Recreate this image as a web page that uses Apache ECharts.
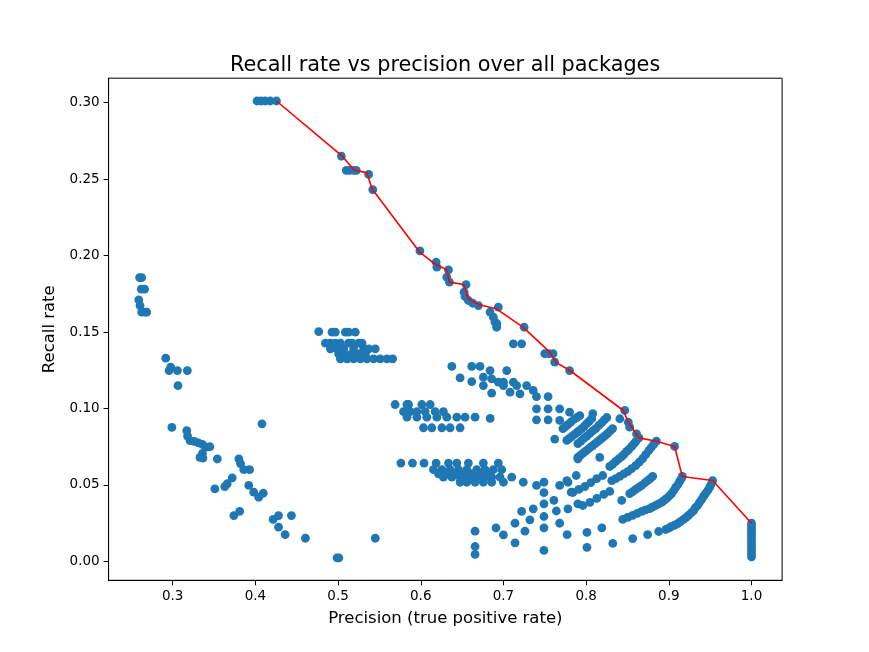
<!DOCTYPE html>
<html><head><meta charset="utf-8">
<script src="https://cdn.jsdelivr.net/npm/echarts@6/dist/echarts.min.js"></script>
<style>html,body{margin:0;padding:0;background:#fff}#c{width:869px;height:652px}</style>
</head><body><div id="c"></div>
<script>
const xTicks = [0.3, 0.4, 0.5, 0.6, 0.7, 0.8, 0.9, 1.0];
const yTicks = [0.00, 0.05, 0.10, 0.15, 0.20, 0.25, 0.30];

// Pareto front (red line)
const frontX = [0.4255,0.505,0.519,0.535,0.541,0.599,0.617,0.623,0.6315,0.6347,0.652,0.6576,0.670,0.692,0.724,0.756,0.764,0.780,0.845,0.851,0.864,0.885,0.907,0.9163,0.953,1.0];
const frontY = [0.301,0.265,0.256,0.254,0.2436,0.202,0.1946,0.193,0.1906,0.1826,0.181,0.1717,0.168,0.165,0.153,0.1368,0.130,0.125,0.0987,0.091,0.0808,0.0786,0.0752,0.0556,0.0529,0.025];

const topPts = [[0.402,0.301],[0.407,0.301],[0.412,0.301],[0.418,0.301],[0.4255,0.301],
 [0.504,0.265],[0.510,0.2556],[0.514,0.2556],[0.519,0.2556],[0.522,0.2556],[0.537,0.253],[0.542,0.243],
 [0.599,0.203],[0.6186,0.1956],[0.6195,0.1924],[0.6335,0.1906],[0.6315,0.1858],[0.6347,0.1826],
 [0.6548,0.181],[0.6524,0.176],[0.6536,0.1732],[0.6576,0.1706],[0.6629,0.1688],[0.6697,0.1673],
 [0.6938,0.1662],[0.6838,0.163],[0.6878,0.1597],[0.6898,0.1564],[0.6918,0.1531],
 [0.725,0.1531],[0.712,0.1423],[0.722,0.1423],[0.750,0.1358],[0.755,0.1358],[0.760,0.1358],[0.762,0.1303],[0.780,0.1248]];

const leftPts = [[0.260,0.1856],[0.2625,0.1856],[0.262,0.178],[0.266,0.178],[0.259,0.171],[0.2605,0.1673],[0.2625,0.163],[0.2665,0.163],[0.2686,0.163],
 [0.2916,0.1329],[0.2976,0.127],[0.2956,0.1248],[0.3057,0.1248],[0.3177,0.1248],[0.3064,0.115],
 [0.299,0.0876],[0.317,0.0855],[0.318,0.082],[0.321,0.079],[0.326,0.0785],[0.331,0.0775],[0.336,0.0765],[0.340,0.0747],[0.345,0.075],[0.336,0.0706],[0.333,0.068],[0.3365,0.0675],[0.354,0.067]];

const lowerLeftPts = [[0.380,0.067],[0.382,0.064],[0.386,0.060],[0.393,0.060],[0.372,0.0547],[0.366,0.0508],[0.363,0.049],[0.351,0.0475],
 [0.392,0.0497],[0.398,0.0453],[0.404,0.042],[0.4095,0.0446],[0.374,0.030],[0.381,0.0327],[0.4215,0.0275],[0.428,0.030],[0.428,0.0224],
 [0.436,0.0176],[0.4436,0.030],[0.408,0.090],[0.4605,0.0152],[0.4988,0.0024],[0.501,0.0024],[0.545,0.0152]];

const midBandPts = [[0.4766,0.1503],[0.4927,0.1499],[0.4967,0.1499],[0.5088,0.1499],[0.5128,0.1499],[0.5208,0.1499],
 [0.4847,0.1427],[0.4907,0.1427],[0.4967,0.1427],[0.5028,0.1427],[0.5128,0.1427],[0.5169,0.1427],[0.5249,0.1427],[0.529,0.1427],
 [0.4907,0.139],[0.4988,0.139],[0.5067,0.139],[0.5188,0.139],[0.5309,0.139],[0.537,0.139],[0.545,0.139],
 [0.5007,0.1357],[0.5088,0.1357],[0.5169,0.1357],[0.5249,0.1357],[0.533,0.1357],
 [0.5028,0.1325],[0.5108,0.1325],[0.5188,0.1325],[0.5269,0.1325],[0.535,0.1325],[0.543,0.1325],[0.551,0.1325],[0.5591,0.1325],[0.566,0.1325]];

const midUpperPts = [[0.569,0.1026],[0.5833,0.1026],[0.5853,0.1026],[0.6013,0.1026],[0.6114,0.1026],
 [0.5792,0.098],[0.5872,0.098],[0.5953,0.098],[0.6053,0.098],[0.6174,0.098],[0.6274,0.098],
 [0.5833,0.0943],[0.5953,0.0943],[0.6074,0.0943],[0.6195,0.0943],[0.6315,0.0943],[0.6436,0.0943],[0.6536,0.0943],[0.6657,0.0943],[0.684,0.0935],
 [0.6033,0.0874],[0.6134,0.0874],[0.6255,0.0874],[0.6355,0.0874],[0.6476,0.0874],
 [0.6376,0.1275],[0.6476,0.120],[0.6617,0.1176],[0.6617,0.1275],[0.6717,0.1275],[0.6757,0.115],[0.6838,0.1248],[0.6858,0.110],
 [0.6757,0.1205],[0.6858,0.1194],[0.6938,0.1172],[0.700,0.115],[0.704,0.1248],[0.692,0.1555],
 [0.700,0.1172],[0.712,0.1172],[0.716,0.115],[0.728,0.115],[0.736,0.1118],[0.708,0.1107],[0.720,0.1096],[0.740,0.1078],[0.754,0.1078],
 [0.740,0.0998],[0.754,0.0998],[0.768,0.0998],[0.780,0.0976],[0.740,0.0926],[0.754,0.0926],[0.768,0.0922],[0.762,0.080]];

const lowerMidPts = [[0.576,0.0643],[0.590,0.0643],[0.604,0.0643],[0.6186,0.0643],[0.6335,0.0643],[0.6436,0.0643],[0.6576,0.0643],[0.6757,0.0643],[0.6938,0.0643],
 [0.6154,0.060],[0.6255,0.060],[0.6355,0.060],[0.6456,0.060],[0.6557,0.060],[0.6677,0.060],[0.6777,0.060],[0.6878,0.060],[0.6979,0.060],
 [0.6214,0.0573],[0.6315,0.0573],[0.6415,0.0573],[0.6516,0.0573],[0.6617,0.0573],[0.6717,0.0573],[0.6817,0.0573],
 [0.6274,0.0551],[0.6376,0.0551],[0.6476,0.0551],[0.6576,0.0551],[0.6677,0.0551],[0.6777,0.0551],[0.6858,0.0551],[0.6958,0.0551],[0.710,0.0551],
 [0.6476,0.0518],[0.6557,0.0518],[0.6657,0.0518],[0.6757,0.0518],[0.6858,0.0518],[0.700,0.0518],[0.724,0.0518],
 [0.740,0.0497],[0.749,0.0518],[0.749,0.045],[0.768,0.0497],[0.778,0.0518],[0.782,0.0453],[0.788,0.0562],[0.790,0.067],
 [0.761,0.040],[0.749,0.0377],[0.764,0.033],[0.778,0.0344],[0.790,0.0377],[0.736,0.0344],[0.722,0.0327],[0.732,0.0272],[0.749,0.0294],
 [0.714,0.025],[0.726,0.0198],[0.691,0.022],[0.700,0.0174],[0.714,0.0122],[0.749,0.022],[0.768,0.025],[0.777,0.0176],[0.749,0.0072],
 [0.6657,0.0198],[0.6657,0.0098],[0.6657,0.0046],[0.801,0.019],[0.819,0.022],[0.801,0.0092]];

const rightStreakPts = [[0.7719,0.0869],[0.7749,0.0882],[0.7779,0.0895],[0.7815,0.0911],[0.7852,0.0928],[0.7888,0.0941],[0.7924,0.0954],
 [0.7767,0.0791],[0.7797,0.0804],[0.7827,0.0817],[0.7858,0.083],[0.7888,0.0843],[0.7918,0.0856],[0.7948,0.0869],[0.7978,0.0885],[0.8008,0.0902],[0.8039,0.0918],[0.8069,0.0935],
 [0.790,0.0771],[0.7936,0.0787],[0.7972,0.0804],[0.8008,0.082],[0.8045,0.0837],[0.8081,0.0853],[0.8117,0.0869],[0.8153,0.0889],[0.819,0.0908],[0.822,0.0925],[0.825,0.0941],
 [0.790,0.068],[0.793,0.0693],[0.796,0.0706],[0.799,0.0719],[0.802,0.0732],[0.805,0.0745],[0.808,0.0758],[0.811,0.0771],[0.814,0.0784],[0.817,0.0797],[0.820,0.0810],[0.823,0.0823],[0.826,0.0837],[0.829,0.0853],[0.832,0.0869],
 [0.8081,0.0967],[0.8165,0.068],[0.8467,0.0987],[0.8407,0.0933],[0.8527,0.0878],[0.851,0.091],[0.861,0.0834],
 [0.864,0.0808],[0.885,0.0786],[0.907,0.0752],[0.9163,0.0556],[0.953,0.0529],
 [0.8286,0.0621],[0.8322,0.0637],[0.8358,0.0654],[0.8394,0.067],[0.8430,0.0686],[0.846,0.0702],[0.8491,0.0719],[0.852,0.0735],[0.8551,0.0752],[0.8575,0.0768],[0.860,0.0784],
 [0.831,0.0529],[0.8358,0.0542],[0.8407,0.0556],[0.8455,0.0572],[0.8503,0.0588],[0.855,0.0607],[0.860,0.0627],[0.8642,0.065],[0.8684,0.0673],[0.872,0.0699],[0.8757,0.0725],[0.8787,0.0745],[0.8817,0.0765],
 [0.8527,0.0444],[0.8564,0.0457],[0.860,0.0471],[0.8636,0.0484],[0.8672,0.0497],[0.8708,0.0513],[0.8744,0.0529],[0.8775,0.0542],[0.8805,0.0556],[0.843,0.0399],
 [0.784,0.0451],[0.7912,0.0471],[0.7984,0.049],[0.8057,0.0516],[0.8129,0.0542],[0.8201,0.0562],[0.7767,0.0529],
 [0.796,0.0366],[0.8045,0.0386],[0.8129,0.0412],[0.8213,0.0438],[0.8286,0.0458]];

const curvePts = [[0.8443,0.0275],[0.8503,0.0288],[0.8563,0.0301],[0.8618,0.0314],[0.8672,0.0327],[0.872,0.0337],[0.8769,0.0346],[0.880,0.0356],[0.8841,0.0366],[0.8877,0.0376],[0.8913,0.0386],[0.8944,0.0399],[0.8974,0.0412],[0.9005,0.0428],[0.9034,0.0444],[0.906,0.0464],[0.9083,0.0484],[0.911,0.0503],[0.9131,0.0523],[0.915,0.054],
 [0.8322,0.0118],[0.8563,0.0150],[0.8744,0.0176],[0.8877,0.0196],[0.8962,0.0209],[0.9005,0.0219],[0.9034,0.0229],[0.907,0.0238],[0.9107,0.0248],[0.914,0.026],[0.9179,0.0275],[0.921,0.0288],[0.9239,0.0301],[0.927,0.0317],[0.930,0.0333],[0.932,0.035],[0.9348,0.0366],[0.937,0.0385],[0.9396,0.0405],[0.942,0.0425],[0.9444,0.0444],[0.947,0.0464],[0.9493,0.0484],[0.951,0.0503]];

const perfectY = [0.003,0.005,0.007,0.009,0.011,0.013,0.015,0.017,0.019,0.021,0.023,0.025];

const scatterData = [].concat(topPts, leftPts, lowerLeftPts, midBandPts, midUpperPts, lowerMidPts, rightStreakPts, curvePts, perfectY.map(v => [1.0, v]));
const lineData = frontX.map((x, i) => [x, frontY[i]]);

const font = 'DejaVu Sans';
const chart = echarts.init(document.getElementById('c'), null, {renderer: 'canvas'});
chart.setOption({
  animation: false,
  backgroundColor: '#ffffff',
  title: {
    text: 'Recall rate vs precision over all packages',
    left: 225, top: 50,
    textStyle: {fontFamily: font, fontSize: 20.8, fontWeight: 'normal', color: '#000'}
  },
  grid: {left: 108.6, right: 86.9, top: 78.2, bottom: 71.7, show: true, borderColor: '#000', borderWidth: 1, backgroundColor: 'transparent'},
  xAxis: {
    type: 'value', min: 0.2225, max: 1.037,
    name: 'Precision (true positive rate)', nameLocation: 'middle', nameGap: 30,
    nameTextStyle: {fontFamily: font, fontSize: 16.5, color: '#000'},
    axisLine: {show: true, onZero: false, lineStyle: {color: '#000', width: 1}},
    axisTick: {show: true, length: 5, lineStyle: {color: '#000'}, customValues: xTicks},
    axisLabel: {fontFamily: font, fontSize: 13.5, color: '#000', margin: 9, customValues: xTicks, formatter: v => v.toFixed(1)},
    splitLine: {show: false}
  },
  yAxis: {
    type: 'value', min: -0.0123, max: 0.3159,
    name: 'Recall rate', nameLocation: 'middle', nameGap: 46, nameRotate: 90,
    nameTextStyle: {fontFamily: font, fontSize: 16.5, color: '#000'},
    axisLine: {show: true, onZero: false, lineStyle: {color: '#000', width: 1}},
    axisTick: {show: true, length: 5, lineStyle: {color: '#000'}, customValues: yTicks},
    axisLabel: {fontFamily: font, fontSize: 13.5, color: '#000', margin: 9, customValues: yTicks, formatter: v => v.toFixed(2)},
    splitLine: {show: false}
  },
  series: [
    {type: 'scatter', data: scatterData, symbolSize: 8.8, itemStyle: {color: '#1f77b4', opacity: 1}, z: 2},
    {type: 'line', data: lineData, showSymbol: false, symbol: 'none', lineStyle: {color: '#ff0000', width: 1.6}, z: 3}
  ]
});
</script></body></html>
